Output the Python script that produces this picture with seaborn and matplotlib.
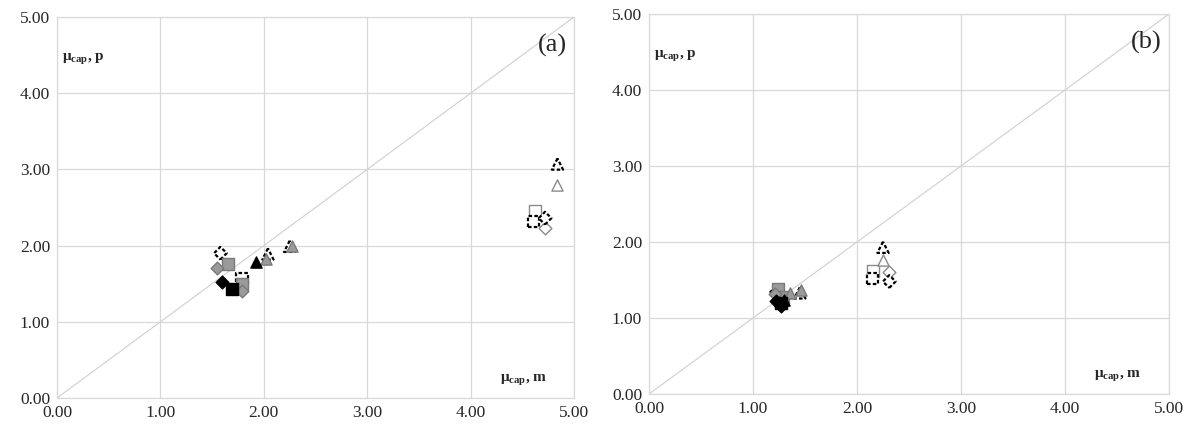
import matplotlib
matplotlib.use("Agg")
import matplotlib.pyplot as plt
import seaborn as sns
import pandas as pd
import numpy as np

# ---- data ----
# panel (a)
a_black_diamond_x = [1.60]; a_black_diamond_y = [1.52]
a_black_square_x = [1.69];  a_black_square_y = [1.43]
a_black_tri_x = [1.92];     a_black_tri_y = [1.79]
a_gray_diamond_x = [1.55, 1.79]; a_gray_diamond_y = [1.70, 1.41]
a_gray_square_x = [1.65, 1.79];  a_gray_square_y = [1.76, 1.50]
a_gray_tri_x = [2.02, 2.27];     a_gray_tri_y = [1.82, 2.00]
a_white_diamond_x = [4.72]; a_white_diamond_y = [2.23]
a_white_square_x = [4.62];  a_white_square_y = [2.45]
a_white_tri_x = [4.84];     a_white_tri_y = [2.80]
a_dash_diamond_x = [1.58, 4.72]; a_dash_diamond_y = [1.90, 2.36]
a_dash_square_x = [1.79, 4.61];  a_dash_square_y = [1.57, 2.32]
a_dash_tri_x = [2.04, 2.25, 4.84]; a_dash_tri_y = [1.89, 1.99, 3.07]

# panel (b)
b_black_diamond_x = [1.22, 1.27]; b_black_diamond_y = [1.22, 1.16]
b_black_square_x = [1.27];        b_black_square_y = [1.20]
b_black_tri_x = [1.30];           b_black_tri_y = [1.24]
b_gray_diamond_x = [1.21];        b_gray_diamond_y = [1.31]
b_gray_square_x = [1.24, 1.29];   b_gray_square_y = [1.38, 1.27]
b_gray_tri_x = [1.36, 1.46];      b_gray_tri_y = [1.33, 1.37]
b_white_diamond_x = [2.31]; b_white_diamond_y = [1.61]
b_white_square_x = [2.15];  b_white_square_y = [1.62]
b_white_tri_x = [2.25];     b_white_tri_y = [1.76]
b_dash_diamond_x = [1.22, 2.31]; b_dash_diamond_y = [1.33, 1.48]
b_dash_square_x = [2.15];        b_dash_square_y = [1.52]
b_dash_tri_x = [1.45, 2.25];     b_dash_tri_y = [1.33, 1.93]

tick_values = [0, 1, 2, 3, 4, 5]
tick_labels = ["0.00", "1.00", "2.00", "3.00", "4.00", "5.00"]
panel_labels = ["(a)", "(b)"]

sns.set_style("white")
plt.rcParams['font.family'] = ['Liberation Serif', 'DejaVu Serif']
plt.rcParams['mathtext.fontset'] = 'custom'
plt.rcParams['mathtext.rm'] = 'Liberation Serif'
plt.rcParams['mathtext.bf'] = 'Liberation Serif:bold'
plt.rcParams['mathtext.it'] = 'Liberation Serif:italic'

fig = plt.figure(figsize=(11.95, 4.28), dpi=100)
axA = fig.add_axes([57/1195, 1-398/428, (574-57)/1195, (398-17)/428])
axB = fig.add_axes([649/1195, 1-394/428, (1169-649)/1195, (394-14)/428])

GRID = '#d9d9d9'
styles = {
    'black': dict(facecolor='black', edgecolor='black', linestyle='-', lw=1.0),
    'gray': dict(facecolor='#9a9a9a', edgecolor='#7a7a7a', linestyle='-', lw=1.0),
    'white': dict(facecolor='white', edgecolor='#8a8a8a', linestyle='-', lw=1.0),
    'dash': dict(facecolor='white', edgecolor='black', linestyle=(0, (1.6, 1.0)), lw=1.6),
}
markers = {'diamond': 'D', 'square': 's', 'tri': '^'}
msize = {'diamond': 42, 'square': 65, 'tri': 65}

def series(prefix):
    g = globals()
    out = []
    for fill in ['white', 'dash', 'gray', 'black']:
        for shp in ['square', 'diamond', 'tri']:
            out.append((fill, shp, g[f"{prefix}_{fill}_{shp}_x"], g[f"{prefix}_{fill}_{shp}_y"]))
    return out

def draw(ax, prefix, label):
    ax.set_xlim(0, 5)
    ax.set_ylim(0, 5)
    ax.set_xticks(tick_values)
    ax.set_xticklabels(tick_labels)
    ax.set_yticks(tick_values)
    ax.set_yticklabels(tick_labels)
    ax.grid(True, color=GRID, linewidth=0.9)
    ax.set_axisbelow(True)
    for s in ax.spines.values():
        s.set_color(GRID)
        s.set_linewidth(0.9)
    ax.tick_params(length=0, labelsize=12.5, pad=5)
    ax.plot([0, 5], [0, 5], color='#cfcfcf', linewidth=0.8, zorder=1)
    for fill, shp, xs, ys in series(prefix):
        st = styles[fill]
        df = pd.DataFrame({'x': xs, 'y': ys})
        sns.scatterplot(data=df, x='x', y='y', ax=ax, marker=markers[shp],
                        s=msize[shp], color=st['facecolor'],
                        edgecolor=st['edgecolor'], linewidth=st['lw'],
                        linestyle=st['linestyle'], zorder=3, legend=False)
    ax.set_xlabel('')
    ax.set_ylabel('')
    ax.text(0.05, 4.45, r'$\mathbf{\mu_{cap}}$, p', fontsize=11, fontweight='bold',
            ha='left', va='center')
    ax.text(4.28, 0.24, r'$\mathbf{\mu_{cap}}$, m', fontsize=11, fontweight='bold',
            ha='left', va='center')
    ax.text(4.93, 4.63, label, fontsize=19, ha='right', va='center')

draw(axA, 'a', panel_labels[0])
draw(axB, 'b', panel_labels[1])

fig.savefig('out.png', dpi=100)
